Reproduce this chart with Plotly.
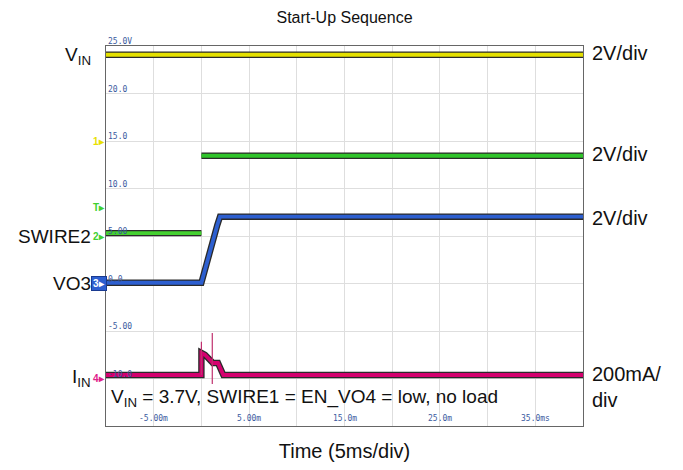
import plotly.graph_objects as go

# ---- data (time in ms, value in screen volts) ----
t_vin = [-10, 40]
vin = [24.08, 24.08]

t_ch_top = [0, 40]
ch_top = [13.45, 13.45]

t_swire2 = [-10, 0]
swire2 = [5.3, 5.3]

t_vo3 = [-10, 0, 1.67, 1.95, 40]
vo3 = [0.08, 0.08, 6.16, 7.03, 7.03]

t_iin = [-10, 0, 0, 0.38, 1.08, 1.2, 1.74, 2.3, 40]
iin = [-9.63, -9.63, -7.3, -7.5, -8.23, -8.37, -8.37, -9.63, -9.63]

spike1_t = [0, 0]
spike1_v = [-6.13, -9.63]
spike2_t = [1.14, 1.14]
spike2_v = [-5.2, -10.58]

y_tick_vals = [25, 20, 15, 10, 5, 0, -5, -10]
y_tick_text = ["25.0V", "20.0", "15.0", "10.0", "5.00", "0.0", "-5.00", "-10.0"]
x_tick_vals = [-5, 5, 15, 25, 35]
x_tick_text = ["-5.00m", "5.00m", "15.0m", "25.0m", "35.0ms"]

trig_t = [0]
trig_hollow_t = [15]

FONT = "Liberation Sans, Arial, sans-serif"
MONO = "DejaVu Sans Mono, monospace"
LBL = 19
RLBL = 20

fig = go.Figure()


def thick(x, y, color, w=3.8):
    fig.add_trace(go.Scatter(x=x, y=y, mode="lines",
                             line=dict(color="#2a2a2a", width=w + 2.6),
                             hoverinfo="skip", showlegend=False))
    fig.add_trace(go.Scatter(x=x, y=y, mode="lines",
                             line=dict(color=color, width=w),
                             hoverinfo="skip", showlegend=False))


thick(t_vin, vin, "#e4e000")
thick(t_ch_top, ch_top, "#2fc42a")
thick(t_swire2, swire2, "#44d030")
thick(t_vo3, vo3, "#2d5fd0")
thick(t_iin, iin, "#d4006e")
for st, sv in [(spike1_t, spike1_v), (spike2_t, spike2_v)]:
    fig.add_trace(go.Scatter(x=st, y=sv, mode="lines",
                             line=dict(color="#c0306e", width=1.2),
                             hoverinfo="skip", showlegend=False))

# trigger markers at the top
fig.add_trace(go.Scatter(x=trig_t, y=[25.25], mode="markers",
                         marker=dict(symbol="triangle-down", size=8, color="#f5a020"),
                         cliponaxis=False, hoverinfo="skip", showlegend=False))
fig.add_trace(go.Scatter(x=trig_hollow_t, y=[25.25], mode="markers",
                         marker=dict(symbol="triangle-down-open", size=8, color="#f5a020"),
                         cliponaxis=False, hoverinfo="skip", showlegend=False))

ann = []
for v, s in zip(y_tick_vals, y_tick_text):
    ann.append(dict(x=-10, y=v, xref="x", yref="y", text=s, showarrow=False,
                    xanchor="left", yanchor="bottom", xshift=0, yshift=-2,
                    font=dict(family=MONO, size=8, color="#3a5aa0")))
for v, s in zip(x_tick_vals, x_tick_text):
    ann.append(dict(x=v, y=-15, xref="x", yref="y", text=s, showarrow=False,
                    xanchor="center", yanchor="bottom", yshift=1,
                    font=dict(family=MONO, size=8, color="#3a5aa0")))

# channel markers on the left edge
chan = [(15, "1", "#e8e000"), (8, "T", "#40d030"), (5, "2", "#40d030"),
        (0, "3", "#ffffff"), (-10, "4", "#e0208a")]
for v, s, c in chan:
    d = dict(x=-10, y=v, xref="x", yref="y", text="<b>" + s + "▸</b>", showarrow=False,
             xanchor="right", yanchor="middle", xshift=1,
             font=dict(family=FONT, size=10, color=c))
    if s == "3":
        d["bgcolor"] = "#2d5fd0"
        d["bordercolor"] = "#1a3a90"
    ann.append(d)

left_labels = [(24.0, "V<sub>IN</sub>"), (5.0, "SWIRE2"), (0.0, "VO3"), (-9.9, "I<sub>IN</sub>")]
for v, s in left_labels:
    ann.append(dict(x=-10, y=v, xref="x", yref="y", text=s, showarrow=False,
                    xanchor="right", yanchor="middle", xshift=-13,
                    font=dict(family=FONT, size=LBL, color="#111111")))

right_labels = [(24.3, "2V/div"), (13.6, "2V/div"), (6.9, "2V/div")]
for v, s in right_labels:
    ann.append(dict(x=40, y=v, xref="x", yref="y", text=s, showarrow=False,
                    xanchor="left", yanchor="middle", xshift=7,
                    font=dict(family=FONT, size=RLBL, color="#111111")))
ann.append(dict(x=40, y=-10.85, xref="x", yref="y", text="200mA/<br>div", showarrow=False,
                xanchor="left", yanchor="middle", xshift=7, align="left",
                font=dict(family=FONT, size=RLBL, color="#111111")))

ann.append(dict(x=-10, y=-12.0, xref="x", yref="y",
                text="V<sub>IN</sub> = 3.7V, SWIRE1 = EN_VO4 = low, no load",
                showarrow=False, xanchor="left", yanchor="middle", xshift=3,
                font=dict(family=FONT, size=LBL, color="#111111")))

# page body has an 8px margin; margins are set so the plot box lands at x 106-583, y 46-426
fig.update_layout(
    width=683, height=470,
    margin=dict(l=98, r=108, t=38, b=52),
    paper_bgcolor="white", plot_bgcolor="white",
    title=dict(text="Start-Up Sequence", x=0.5, xref="paper", xanchor="center",
               y=0.979, yanchor="middle", font=dict(family=FONT, size=16, color="#111111")),
    annotations=ann,
    showlegend=False,
)
fig.update_xaxes(range=[-10, 40], dtick=5, tick0=0, showgrid=True, gridcolor="#dedede",
                 gridwidth=1.2, zeroline=False, showticklabels=False, ticks="",
                 showline=True, linecolor="#666666", linewidth=1.2, mirror=True,
                 title=dict(text="Time (5ms/div)", standoff=17,
                            font=dict(family=FONT, size=RLBL, color="#111111")))
fig.update_yaxes(range=[-15, 25], dtick=5, tick0=0, showgrid=True, gridcolor="#dedede",
                 gridwidth=1.2, zeroline=False, showticklabels=False, ticks="",
                 showline=True, linecolor="#666666", linewidth=1.2, mirror=True)

fig.write_html("out.html")
